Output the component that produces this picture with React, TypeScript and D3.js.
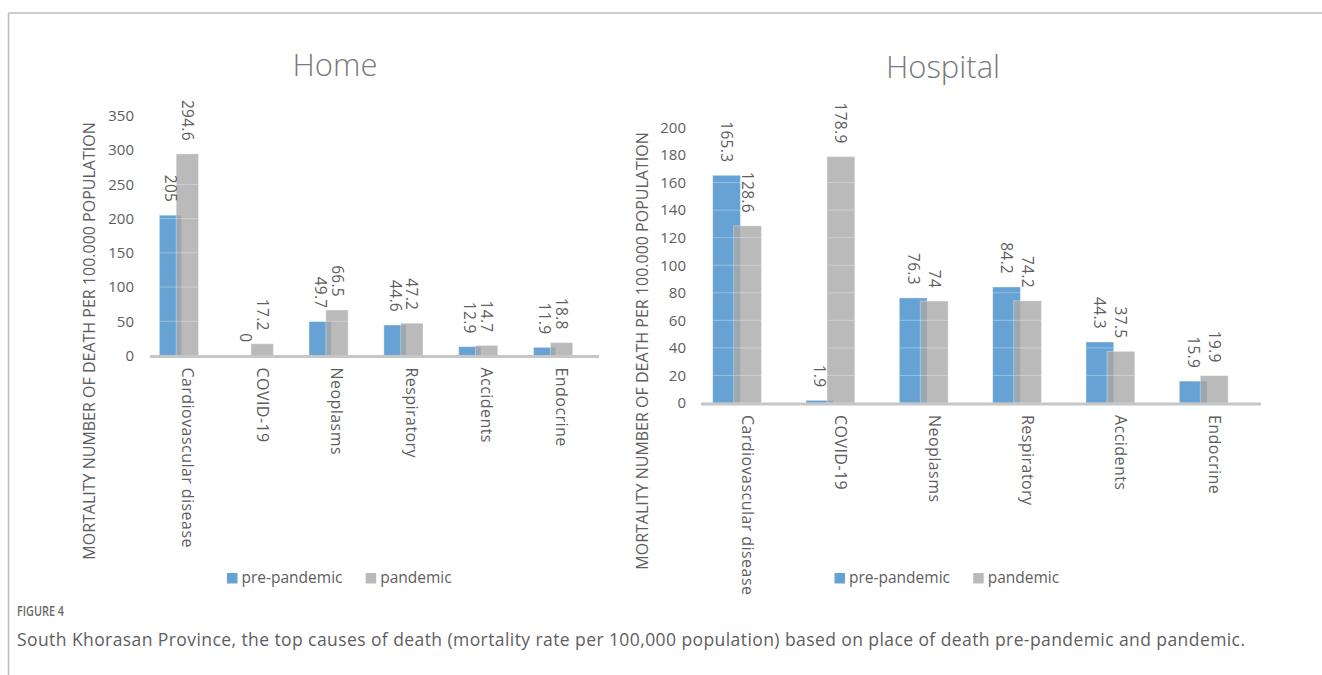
import React from "react";
import * as d3 from "d3";

const categories = ["Cardiovascular disease", "COVID-19", "Neoplasms", "Respiratory", "Accidents", "Endocrine"];
const seriesNames = ["pre-pandemic", "pandemic"];
const homePre = [205, 0, 49.7, 44.6, 12.9, 11.9];
const homePan = [294.6, 17.2, 66.5, 47.2, 14.7, 18.8];
const hospPre = [165.3, 1.9, 76.3, 84.2, 44.3, 15.9];
const hospPan = [128.6, 178.9, 74, 74.2, 37.5, 19.9];
const homeTicks = [0, 50, 100, 150, 200, 250, 300, 350];
const hospTicks = [0, 20, 40, 60, 80, 100, 120, 140, 160, 180, 200];
const yTitle = "MORTALITY NUMBER OF DEATH PER 100.000 POPULATION";
const caption = "South Khorasan Province, the top causes of death (mortality rate per 100,000 population) based on place of death pre-pandemic and pandemic.";

const FONT = "'Open Sans', sans-serif";
const TXT = "#5e5e5e";
const BLUE = "#66a3d4";
const GREY = "#a9a9a9";

type PanelProps = {
  title: string;
  pre: number[];
  pan: number[];
  ticks: number[];
  x0: number;
  x1: number;
  yBase: number;
  yTop: number;
  titleX: number;
  titleY: number;
  tickRight: number;
  axisTitleX: number;
  axisTitleY: number;
  legendX: number;
  legendY: number;
};

function Panel(p: PanelProps) {
  const x = d3.scaleBand<string>().domain(categories).range([p.x0, p.x1]).paddingInner(0).paddingOuter(0);
  const maxT = p.ticks[p.ticks.length - 1];
  const y = d3.scaleLinear().domain([0, maxT]).range([p.yBase, p.yTop]);
  const step = x.step();
  const preOff = [-0.375, -0.078];
  const panOff = [-0.15, 0.148];
  const series = [
    { vals: p.pre, off: preOff, color: BLUE, opacity: 1 },
    { vals: p.pan, off: panOff, color: GREY, opacity: 0.8 },
  ];
  return (
    <g>
      <text x={p.titleX} y={p.titleY} textAnchor="middle" fontFamily={FONT} fontWeight={300} fontSize={31} fill="#7a7a7a">
        {p.title}
      </text>
      <text
        transform={`translate(${p.axisTitleX},${p.axisTitleY}) rotate(-90)`}
        textAnchor="middle"
        dy="0.35em"
        fontFamily={FONT}
        fontSize={16}
        fill={TXT}
      >
        {yTitle}
      </text>
      {p.ticks.map((t) => (
        <text key={t} x={p.tickRight} y={y(t)} dy="0.35em" textAnchor="end" fontFamily={FONT} fontSize={15} fill={TXT}>
          {t}
        </text>
      ))}
      {series.map((s, si) =>
        categories.map((c, i) => {
          const cx = (x(c) as number) + step / 2;
          const bx = cx + s.off[0] * step;
          const bw = (s.off[1] - s.off[0]) * step;
          return (
            <rect
              key={`${si}-${c}`}
              x={bx}
              y={y(s.vals[i])}
              width={bw}
              height={p.yBase - y(s.vals[i])}
              fill={s.color}
              fillOpacity={s.opacity}
              stroke="#ffffff"
              strokeOpacity={0.35}
              strokeWidth={1}
            />
          );
        })
      )}
      {p.ticks.slice(1).map((t) => (
        <line key={t} x1={p.x0} x2={p.x1} y1={y(t)} y2={y(t)} stroke="#ffffff" strokeOpacity={0.3} strokeWidth={1} />
      ))}
      <line x1={p.x0} x2={p.x1} y1={p.yBase + 1} y2={p.yBase + 1} stroke="#c6c6c6" strokeWidth={3} />
      {series.map((s, si) =>
        categories.map((c, i) => {
          const cx = (x(c) as number) + step / 2;
          const lx = cx + ((s.off[0] + s.off[1]) / 2) * step;
          const ly = y(s.vals[i]) - 13;
          return (
            <text
              key={`l${si}-${c}`}
              transform={`translate(${lx},${ly}) rotate(90)`}
              textAnchor="end"
              dy="0.35em"
              fontFamily={FONT}
              fontSize={15.5}
              letterSpacing={0.3}
              fill={TXT}
            >
              {String(s.vals[i])}
            </text>
          );
        })
      )}
      {categories.map((c) => {
        const cx = (x(c) as number) + step / 2;
        return (
          <text
            key={`c-${c}`}
            transform={`translate(${cx},${p.yBase + 12}) rotate(90)`}
            textAnchor="start"
            dy="0.35em"
            fontFamily={FONT}
            fontSize={16}
            letterSpacing={0.45}
            fill={TXT}
          >
            {c}
          </text>
        );
      })}
      {seriesNames.map((n, i) => {
        const lx = p.legendX + i * 138.7;
        return (
          <g key={n}>
            <rect x={lx} y={p.legendY - 5} width={10.5} height={10.5} fill={i === 0 ? BLUE : GREY} fillOpacity={i === 0 ? 1 : 0.8} />
            <text x={lx + 14.5} y={p.legendY} dy="0.35em" fontFamily={FONT} fontSize={15.5} fill={TXT}>
              {n}
            </text>
          </g>
        );
      })}
    </g>
  );
}

export default function App() {
  return (
    <svg width={1322} height={675} style={{ position: "absolute", left: 0, top: 0 }} xmlns="http://www.w3.org/2000/svg">
      <rect x={0} y={0} width={1322} height={675} fill="#ffffff" />
      <line x1={8.5} x2={1322} y1={13} y2={13} stroke="#bdbdbd" strokeWidth={1.5} />
      <line x1={8.5} x2={8.5} y1={13} y2={675} stroke="#bdbdbd" strokeWidth={1.5} />
      <Panel
        title="Home"
        pre={homePre}
        pan={homePan}
        ticks={homeTicks}
        x0={150}
        x1={599}
        yBase={355.5}
        yTop={116}
        titleX={335}
        titleY={76}
        tickRight={134}
        axisTitleX={89}
        axisTitleY={341}
        legendX={227}
        legendY={578}
      />
      <Panel
        title="Hospital"
        pre={hospPre}
        pan={hospPan}
        ticks={hospTicks}
        x0={701}
        x1={1261}
        yBase={403}
        yTop={127.5}
        titleX={943}
        titleY={78}
        tickRight={686}
        axisTitleX={642}
        axisTitleY={351}
        legendX={834.5}
        legendY={578}
      />
      <text x={17} y={616} fontFamily={FONT} fontWeight={600} fontSize={13.5} textLength={47} lengthAdjust="spacingAndGlyphs" fill="#6b6b6b">
        FIGURE 4
      </text>
      <text x={17} y={646} fontFamily={FONT} fontSize={17.5} textLength={1228} lengthAdjust="spacing" fill="#5e5e5e">
        {caption}
      </text>
    </svg>
  );
}
